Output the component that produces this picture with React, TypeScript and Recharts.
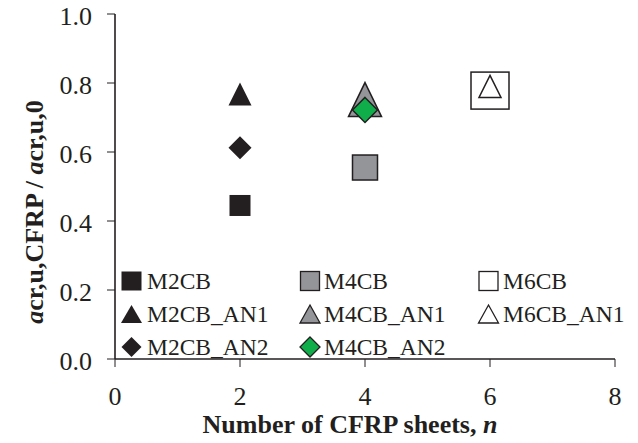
import React from 'react';
import { ScatterChart, Scatter, XAxis, YAxis } from 'recharts';

const seriesNames = ['M2CB', 'M2CB_AN1', 'M2CB_AN2', 'M4CB', 'M4CB_AN1', 'M4CB_AN2', 'M6CB', 'M6CB_AN1'];
const sheetCounts = [2, 2, 2, 4, 4, 4, 6, 6];
const ratioValues = [0.445, 0.768, 0.612, 0.555, 0.752, 0.722, 0.778, 0.79];
const xTicks = [0, 2, 4, 6, 8];
const yTicks = [0, 0.2, 0.4, 0.6, 0.8, 1.0];
const xTitle = 'Number of CFRP sheets, ';
const xTitleVar = 'n';

const INK = '#231f20';
const GRAY = '#939598';
const GREEN = '#10ad4b';
const FONT = "Liberation Serif, Times New Roman, serif";
const fontStyle = { fontFamily: FONT };

type Kind = 'square' | 'triangle' | 'diamond';
interface MStyle { kind: Kind; w: number; h: number; fill: string; stroke: string; lw: number; }

const plotStyles: MStyle[] = [
  { kind: 'square', w: 21, h: 21, fill: INK, stroke: 'none', lw: 0 },
  { kind: 'triangle', w: 23, h: 23, fill: INK, stroke: 'none', lw: 0 },
  { kind: 'diamond', w: 23, h: 23, fill: INK, stroke: 'none', lw: 0 },
  { kind: 'square', w: 25, h: 25, fill: GRAY, stroke: INK, lw: 1.5 },
  { kind: 'triangle', w: 33, h: 34, fill: GRAY, stroke: INK, lw: 1.5 },
  { kind: 'diamond', w: 25, h: 25, fill: GREEN, stroke: INK, lw: 1.5 },
  { kind: 'square', w: 38, h: 37, fill: '#ffffff', stroke: INK, lw: 1.5 },
  { kind: 'triangle', w: 22, h: 22, fill: '#ffffff', stroke: INK, lw: 1.5 },
];

const legendStyles: MStyle[] = [
  { kind: 'square', w: 20, h: 19, fill: INK, stroke: 'none', lw: 0 },
  { kind: 'triangle', w: 21, h: 18, fill: INK, stroke: 'none', lw: 0 },
  { kind: 'diamond', w: 20, h: 20, fill: INK, stroke: 'none', lw: 0 },
  { kind: 'square', w: 19, h: 19, fill: GRAY, stroke: INK, lw: 1.3 },
  { kind: 'triangle', w: 20, h: 18, fill: GRAY, stroke: INK, lw: 1.3 },
  { kind: 'diamond', w: 20, h: 20, fill: GREEN, stroke: INK, lw: 1.3 },
  { kind: 'square', w: 19, h: 19, fill: '#ffffff', stroke: INK, lw: 1.3 },
  { kind: 'triangle', w: 20, h: 18, fill: '#ffffff', stroke: INK, lw: 1.3 },
];

function Marker({ cx, cy, s }: { cx: number; cy: number; s: MStyle }) {
  const { w, h } = s;
  if (s.kind === 'square') {
    return <rect x={cx - w / 2} y={cy - h / 2} width={w} height={h} fill={s.fill} stroke={s.stroke} strokeWidth={s.lw} />;
  }
  if (s.kind === 'triangle') {
    const pts = `${cx},${cy - h / 2} ${cx + w / 2},${cy + h / 2} ${cx - w / 2},${cy + h / 2}`;
    return <polygon points={pts} fill={s.fill} stroke={s.stroke} strokeWidth={s.lw} strokeLinejoin="miter" />;
  }
  const pts = `${cx},${cy - h / 2} ${cx + w / 2},${cy} ${cx},${cy + h / 2} ${cx - w / 2},${cy}`;
  return <polygon points={pts} fill={s.fill} stroke={s.stroke} strokeWidth={s.lw} />;
}

const seriesData = seriesNames.map((name, i) => ({
  name,
  points: [{ n: sheetCounts[i], r: ratioValues[i] }],
}));

const XTick = (props: any) => {
  const { x, y, payload } = props;
  return (
    <text x={x} y={y} dy={36} textAnchor="middle" style={fontStyle} fontSize={26} fill={INK}>
      {payload.value}
    </text>
  );
};

const YTick = (props: any) => {
  const { x, y, payload } = props;
  return (
    <text x={x - 13} y={y} dy={11} textAnchor="end" style={fontStyle} fontSize={26} fill={INK}>
      {Number(payload.value).toFixed(1)}
    </text>
  );
};

const XTitle = () => (
  <text x={350} y={432.5} textAnchor="middle" style={fontStyle} fontSize={26} fontWeight="bold" fill={INK}>
    {xTitle}
    <tspan fontStyle="italic">{xTitleVar}</tspan>
  </text>
);

const YTitle = () => {
  const x = 43;
  const y = 212;
  return (
    <text x={x} y={y} transform={`rotate(-90, ${x}, ${y})`} textAnchor="middle" style={fontStyle} fontSize={26} fontWeight="bold" fill={INK}>
      <tspan fontStyle="italic">a</tspan>cr,u,CFRP / <tspan fontStyle="italic">a</tspan>cr,u,0
    </text>
  );
};

const legendColX = [131.5, 310, 488.5];
const legendTextX = [147, 324, 503];
const legendRowY = [281, 314, 347];

function LegendOverlay() {
  return (
    <svg width={638} height={443} style={{ position: 'absolute', left: 0, top: 0, pointerEvents: 'none' }}>
      {seriesNames.map((name, i) => {
        const col = Math.floor(i / 3);
        const row = i % 3;
        const cy = legendRowY[row];
        return (
          <g key={name}>
            <Marker cx={legendColX[col]} cy={cy} s={legendStyles[i]} />
            <text x={legendTextX[col]} y={cy + 8} style={fontStyle} fontSize={23.5} fill={INK}>{name}</text>
          </g>
        );
      })}
    </svg>
  );
}

export default function App() {
  return (
    <div style={{ position: 'absolute', left: 0, top: 0, width: 638, height: 443, background: '#fff', fontFamily: FONT }}>
      <ScatterChart width={638} height={443} margin={{ top: 14, right: 23, bottom: 24, left: 55 }} style={fontStyle}>
        <XAxis
          xAxisId="main"
          type="number"
          dataKey="n"
          domain={[0, 8]}
          ticks={xTicks}
          interval={0}
          height={60}
          axisLine={{ stroke: INK, strokeWidth: 1.6 }}
          tickLine={{ stroke: INK, strokeWidth: 1 }}
          tickSize={8}
          tick={<XTick />}
          label={{ content: <XTitle /> } as any}
        />
        <XAxis xAxisId="top" orientation="top" type="number" domain={[0, 8]} height={0} tick={false} tickLine={false} axisLine={{ stroke: INK, strokeWidth: 1.6 }} />
        <YAxis
          yAxisId="main"
          type="number"
          dataKey="r"
          domain={[0, 1]}
          ticks={yTicks}
          interval={0}
          width={60}
          axisLine={{ stroke: INK, strokeWidth: 1.6 }}
          tickLine={{ stroke: INK, strokeWidth: 1 }}
          tickSize={8}
          tick={<YTick />}
          label={{ content: <YTitle /> } as any}
        />
        <YAxis yAxisId="right" orientation="right" type="number" domain={[0, 1]} width={0} tick={false} tickLine={false} axisLine={{ stroke: INK, strokeWidth: 1.6 }} />
        {seriesData.map((s, i) => (
          <Scatter
            key={s.name}
            name={s.name}
            xAxisId="main"
            yAxisId="main"
            data={s.points}
            isAnimationActive={false}
            shape={(p: any) => <Marker cx={p.cx} cy={p.cy} s={plotStyles[i]} />}
          />
        ))}
      </ScatterChart>
      <LegendOverlay />
    </div>
  );
}
